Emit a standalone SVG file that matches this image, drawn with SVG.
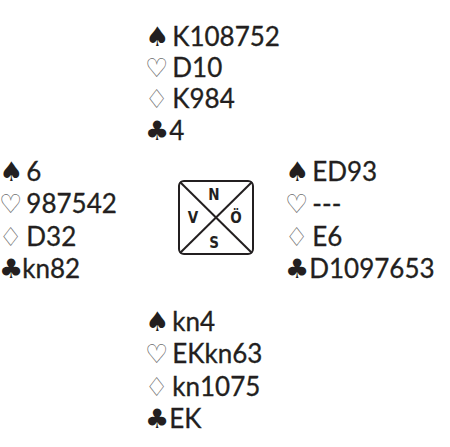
<svg xmlns="http://www.w3.org/2000/svg" width="450" height="447" viewBox="0 0 450 447">
<style>
text{font-family:Lato,"Open Sans","DejaVu Sans",sans-serif;font-size:26px;fill:#231f20}
.t{stroke:#231f20;stroke-width:0.3}
.s{font-family:"DejaVu Sans",sans-serif;font-size:27px;fill:#231f20;stroke:none}
.o{font-family:"DejaVu Sans",sans-serif;font-size:26px;fill:#6d6d6d;stroke:none}
.c{font-family:"Liberation Sans Narrow","DejaVu Sans Condensed",sans-serif;font-weight:bold;font-size:15px;fill:#231f20;text-anchor:middle}
.b{fill:none;stroke:#231f20;stroke-width:2}
</style>
<rect width="450" height="447" fill="#fff"/>
<g id="north">
<text x="145" y="46"><tspan class="s">♠</tspan><tspan class="t" dx="3">K108752</tspan></text>
<text x="145" y="77"><tspan class="o">♡</tspan><tspan class="t" dx="4">D10</tspan></text>
<text x="145" y="108"><tspan class="o">♢</tspan><tspan class="t" dx="4">K984</tspan></text>
<text x="145" y="140"><tspan class="s">♣</tspan><tspan class="t" dx="0">4</tspan></text>
</g>
<g id="west">
<text x="-1" y="181"><tspan class="s">♠</tspan><tspan class="t" dx="3">6</tspan></text>
<text x="-1" y="213"><tspan class="o">♡</tspan><tspan class="t" dx="4">987542</tspan></text>
<text x="-1" y="246"><tspan class="o">♢</tspan><tspan class="t" dx="4">D32</tspan></text>
<text x="-1" y="278"><tspan class="s">♣</tspan><tspan class="t" dx="-1">kn82</tspan></text>
</g>
<g id="east">
<text x="285" y="181"><tspan class="s">♠</tspan><tspan class="t" dx="3">ED93</tspan></text>
<text x="285" y="213"><tspan class="o">♡</tspan><tspan class="t" dx="4">---</tspan></text>
<text x="285" y="246"><tspan class="o">♢</tspan><tspan class="t" dx="4">E6</tspan></text>
<text x="285" y="278"><tspan class="s">♣</tspan><tspan class="t" dx="0">D1097653</tspan></text>
</g>
<g id="south">
<text x="145" y="331"><tspan class="s">♠</tspan><tspan class="t" dx="3">kn4</tspan></text>
<text x="145" y="363"><tspan class="o">♡</tspan><tspan class="t" dx="4">EKkn63</tspan></text>
<text x="145" y="396"><tspan class="o">♢</tspan><tspan class="t" dx="4">kn1075</tspan></text>
<text x="145" y="428"><tspan class="s">♣</tspan><tspan class="t" dx="0">EK</tspan></text>
</g>
<g id="compass">
<rect class="b" x="179" y="181" width="74" height="73" rx="5"/>
<line class="b" x1="180" y1="182" x2="252" y2="253"/>
<line class="b" x1="252" y1="182" x2="180" y2="253"/>
<text class="c" x="214" y="200">N</text>
<text class="c" x="193" y="223">V</text>
<text class="c" x="236" y="223">Ö</text>
<text class="c" x="214" y="248">S</text>
</g>
</svg>
